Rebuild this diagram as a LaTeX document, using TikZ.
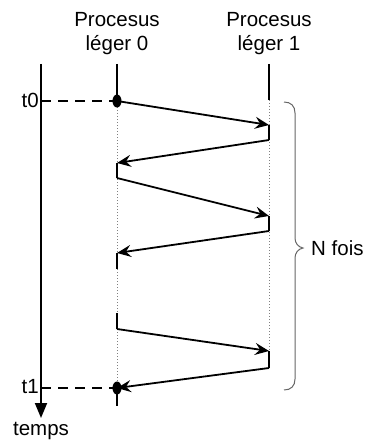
\documentclass[tikz,border=0pt]{standalone}
\usepackage{fontspec}
\setmainfont{Liberation Sans}
\usetikzlibrary{arrows.meta}
\begin{document}
\begin{tikzpicture}[x=1pt,y=-1pt,
  lbl/.style={font=\fontsize{20.5}{24}\selectfont, inner sep=0pt, align=center},
  solidline/.style={line width=2pt},
  msg/.style={line width=1.8pt, -{Stealth[length=14pt,width=12pt,inset=5pt]}},
  dashline/.style={line width=1.8pt, dash pattern=on 10pt off 7pt},
  dotline/.style={line width=0.7pt, gray, dash pattern=on 0.8pt off 2.2pt},
  bracestyle/.style={gray!80!black, line width=1pt}]
\useasboundingbox (0,0) rectangle (370,441);
% coordinates
\coordinate (axtop) at (41,64);
\coordinate (axend) at (41,418);
\coordinate (p0top) at (117,64);
\coordinate (p1top) at (269,64);
\coordinate (a0) at (117,101);
\coordinate (b0) at (269,100);
\coordinate (b1) at (269,125);
\coordinate (b2) at (269,140);
\coordinate (a1) at (117,163);
\coordinate (a2) at (117,178);
\coordinate (b3) at (269,216);
\coordinate (b4) at (269,231);
\coordinate (a3) at (117,253);
\coordinate (a4) at (117,269);
\coordinate (a5) at (117,313);
\coordinate (a6) at (117,329);
\coordinate (b5) at (269,351);
\coordinate (b6) at (269,368);
\coordinate (a7) at (117,388);
\coordinate (a8) at (117,406);
\coordinate (t0l) at (41,101);
\coordinate (t1l) at (41,388);
\coordinate (brtop) at (284,102);
\coordinate (brtip) at (303,248);
\coordinate (brbot) at (284,390);
% labels
\node[lbl] (lab0) at (117,34) {Procesus\\léger 0};
\node[lbl] (lab1) at (269,34) {Procesus\\léger 1};
\node[lbl, anchor=east] (t0) at (39,100) {t0};
\node[lbl, anchor=east] (t1) at (39,387) {t1};
\node[lbl] (temps) at (41,431) {temps};
% dotted guides
\draw[dotline] (a0) -- (a7);
\draw[dotline] (b0) -- (b6);
% time axis
\draw[line width=1.8pt, -{Stealth[length=15pt,width=12pt,inset=0pt]}] (axtop) -- (axend);
% process lines
\draw[solidline] (p0top) -- (a0);
\draw[solidline] (p1top) -- (b0);
\draw[solidline] (b1) -- (b2);
\draw[solidline] (a1) -- (a2);
\draw[solidline] (b3) -- (b4);
\draw[solidline] (a3) -- (a4);
\draw[solidline] (a5) -- (a6);
\draw[solidline] (b5) -- (b6);
\draw[solidline] (a7) -- (a8);
% messages
\draw[msg] (a0) -- (b1);
\draw[msg] (b2) -- (a1);
\draw[msg] (a2) -- (b3);
\draw[msg] (b4) -- (a3);
\draw[msg] (a6) -- (b5);
\draw[msg] (b6) -- (a7);
% dashed time marks
\draw[dashline] (t0l) -- (a0);
\draw[dashline] (t1l) -- (a7);
% dots
\fill (a0) ellipse [x radius=4.5pt, y radius=6.5pt];
\fill (a7) ellipse [x radius=4.5pt, y radius=6.5pt];
% brace
\draw[bracestyle] (brtop) .. controls (291,102) and (295,106) .. (295,113)
  -- (295,238) .. controls (295,243) and (298,247) .. (brtip)
  .. controls (298,249) and (295,253) .. (295,258)
  -- (295,379) .. controls (295,386) and (291,390) .. (brbot);
\node[lbl, anchor=west] (nfois) at (311,248) {N fois};
\end{tikzpicture}
\end{document}
